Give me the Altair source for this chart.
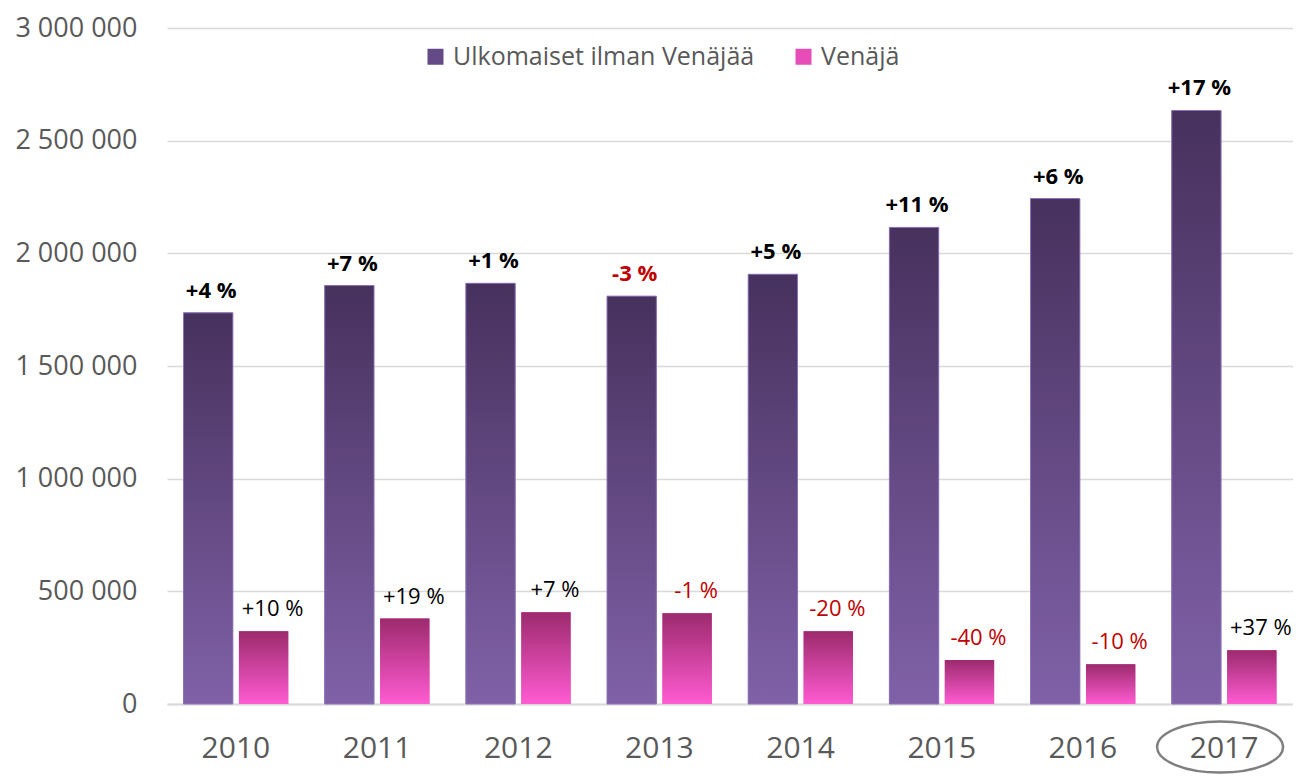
import altair as alt
import pandas as pd

years = ["2010", "2011", "2012", "2013", "2014", "2015", "2016", "2017"]
ulkomaiset = [1736000, 1857000, 1867000, 1810000, 1907000, 2115000, 2243000, 2634000]
venaja = [323000, 379000, 407000, 403000, 323000, 195000, 176000, 239000]
ulkomaiset_change = ["+4 %", "+7 %", "+1 %", "-3 %", "+5 %", "+11 %", "+6 %", "+17 %"]
venaja_change = ["+10 %", "+19 %", "+7 %", "-1 %", "-20 %", "-40 %", "-10 %", "+37 %"]
series = ["Ulkomaiset ilman Venäjää", "Venäjä"]
highlight_year = ["2017"]
y_ticks = [0, 500000, 1000000, 1500000, 2000000, 2500000, 3000000]

rows = []
for i, yr in enumerate(years):
    rows.append({"year": yr, "series": series[0], "value": ulkomaiset[i], "label": ulkomaiset_change[i]})
    rows.append({"year": yr, "series": series[1], "value": venaja[i], "label": venaja_change[i]})
df = pd.DataFrame(rows)

FONT = "Open Sans"
GRAY = "#595959"
W, H = 1126, 676

x_enc = alt.X(
    "year:N", sort=years,
    scale=alt.Scale(paddingInner=0.258, paddingOuter=0.117),
    axis=alt.Axis(title=None, labelFont=FONT, labelFontSize=30, labelColor=GRAY,
                  labelPadding=29, ticks=False, domain=True, domainColor="#d9d9d9",
                  domainWidth=2, labelAngle=0, grid=False),
)
xo_enc = alt.XOffset("series:N", sort=series,
                     scale=alt.Scale(domain=series, paddingInner=0.11, paddingOuter=0))
y_enc = alt.Y(
    "value:Q",
    scale=alt.Scale(domain=[0, 3000000]),
    axis=alt.Axis(title=None, values=y_ticks,
                  labelExpr="replace(replace(format(datum.value, ','), ',', ' '), ',', ' ')",
                  labelFont=FONT, labelFontSize=27, labelColor=GRAY, labelPadding=30,
                  ticks=False, domain=False, grid=True, gridColor="#d9d9d9", gridWidth=1.5),
)

base = alt.Chart(df).encode(x=x_enc, xOffset=xo_enc, y=y_enc)

grad_purple = alt.Gradient(
    gradient="linear", x1=0, x2=0, y1=0, y2=1,
    stops=[alt.GradientStop(color="#47315d", offset=0),
           alt.GradientStop(color="#8061a8", offset=1)],
)
grad_pink = alt.Gradient(
    gradient="linear", x1=0, x2=0, y1=0, y2=1,
    stops=[alt.GradientStop(color="#9c2a6d", offset=0),
           alt.GradientStop(color="#ff5bd2", offset=1)],
)

legend_layer = base.mark_bar().encode(
    color=alt.Color(
        "series:N",
        scale=alt.Scale(domain=series, range=["#654a88", "#e64db8"]),
        legend=alt.Legend(title=None, orient="none", legendX=256, legendY=16,
                          direction="horizontal", symbolType="square", symbolSize=256,
                          symbolStrokeWidth=0, labelFont=FONT, labelFontSize=25,
                          labelColor=GRAY, labelOffset=5, columnPadding=36, padding=0,
                          labelLimit=600),
    )
)

purple_bars = base.transform_filter(alt.datum.series == series[0]).mark_bar(
    fill=grad_purple, stroke="#8c72b8", strokeWidth=1
)
pink_bars = base.transform_filter(alt.datum.series == series[1]).mark_bar(fill=grad_pink)

neg_color = alt.condition("indexof(datum.label, '-') == 0",
                          alt.value("#c00000"), alt.value("#000000"))

purple_text = base.transform_filter(alt.datum.series == series[0]).mark_text(
    font=FONT, fontSize=22, fontWeight="bold", dy=-15, dx=3, baseline="alphabetic"
).encode(text="label:N", color=neg_color)

pink_text = base.transform_filter(alt.datum.series == series[1]).mark_text(
    font=FONT, fontSize=22, dy=-15, dx=9, baseline="alphabetic"
).encode(text="label:N", color=neg_color)

ELLIPSE = "M-1,0A1,0.405,0,1,1,1,0A1,0.405,0,1,1,-1,0Z"
ellipse = alt.Chart(pd.DataFrame({"year": highlight_year})).mark_point(
    shape=ELLIPSE, size=126 * 126, filled=False, stroke="#7f7f7f",
    strokeWidth=2.5, opacity=1, xOffset=-4
).encode(x=x_enc, y=alt.value(719))

chart = alt.layer(
    legend_layer, purple_bars, pink_bars, purple_text, pink_text, ellipse
).properties(
    width=W, height=H,
    padding={"left": 159, "top": 20, "right": 0, "bottom": 70},
    autosize=alt.AutoSizeParams(type="none"),
).configure_view(stroke=None)

chart.save("out.html", embed_options={"renderer": "svg", "actions": False})
